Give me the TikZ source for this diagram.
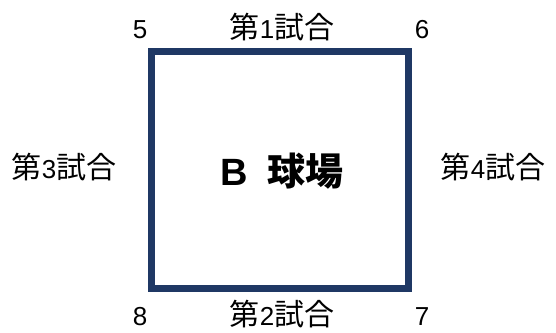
\documentclass[tikz,border=0pt]{standalone}
\usepackage{fontspec}
\setmainfont{Liberation Sans}
\newfontfamily\cjk{Noto Sans CJK JP}
\newcommand{\jp}[1]{{\cjk\fontsize{30}{32}\selectfont #1}}
\definecolor{navy}{HTML}{1F3864}
\begin{document}
\begin{tikzpicture}[x=1pt,y=-1pt,line join=miter]
            \tikzset{lbl/.style={font=\fontsize{26}{30}\selectfont,inner sep=0pt,anchor=base}}
            \useasboundingbox (0,0) rectangle (556,332);
            \draw[navy,line width=6.5pt] (151.5,51.5) rectangle (408.5,288.5);
            \node[font=\fontsize{38}{40}\selectfont\bfseries,inner sep=0pt,anchor=base] (ground) at (282,185)
                {B\hspace{19pt}{\cjk 球場}};
            \node[lbl] (c5) at (140,38) {5};
            \node[lbl] (g1) at (282,38) {\jp{第}1\jp{試合}};
            \node[lbl] (c6) at (422,38) {6};
            \node[lbl] (g3) at (64,178) {\jp{第}3\jp{試合}};
            \node[lbl] (g4) at (493,178) {\jp{第}4\jp{試合}};
            \node[lbl] (c8) at (140,325) {8};
            \node[lbl] (g2) at (282,325) {\jp{第}2\jp{試合}};
            \node[lbl] (c7) at (422,325) {7};
        \end{tikzpicture}
\end{document}
